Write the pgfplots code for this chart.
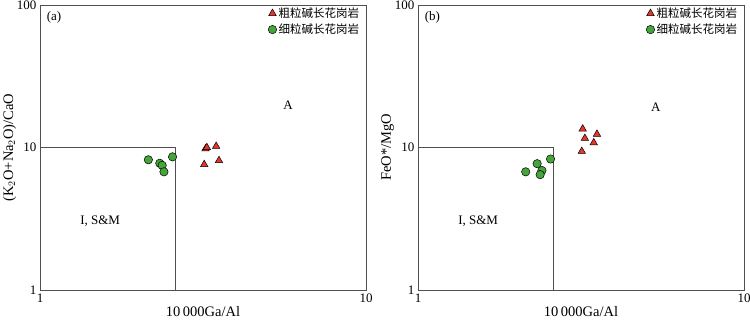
\documentclass[border=0pt]{standalone}
\usepackage{fontspec}
\setmainfont{Liberation Serif}
\newfontfamily\cjk{Noto Sans CJK SC}
\usepackage{pgfplots}
\pgfplotsset{compat=1.18}
\definecolor{frame}{HTML}{505050}
\definecolor{mred}{HTML}{E8352B}
\definecolor{mgreen}{HTML}{45A43A}

\pgfplotsset{
  scale only axis,width=326pt,height=285pt,
  xmin=1,xmax=10,ymin=1,ymax=100,
  xtick={1,10},xticklabels={1,10},
  ytick={1,10,100},yticklabels={1,10,100},
  minor tick num=0,
  major tick length=0pt,minor tick length=0pt,
  axis line style={frame,line width=0.8pt},
  tick label style={font=\fontsize{13}{13}\selectfont},
  label style={font=\fontsize{14.5}{14.5}\selectfont},
  xlabel style={yshift=3pt},
  ylabel style={yshift=-6pt},
  clip=false,
  legend cell align=left,
  legend style={at={(0.995,1.005)},anchor=north east,draw=none,fill=none,
    font=\cjk\fontsize{11.5}{11.5}\selectfont,row sep=1pt},
}

\begin{document}
\begin{tikzpicture}
\useasboundingbox (0pt,0pt) rectangle (750pt,323pt);
\begin{axis}[xmode=log,ymode=log,at={(40pt,33pt)},anchor=south west,
  xlabel={10\,000Ga/Al},ylabel={(K$_2$O+Na$_2$O)/CaO}]
\addplot[only marks,mark=triangle*,mark size=4.3pt,mark options={fill=mred,draw=black,line width=0.5pt}]
  coordinates {(3.22,9.8) (3.25,10.0) (3.47,10.2) (3.19,7.6) (3.54,8.1)};
\addlegendentry{粗粒碱长花岗岩}
\addplot[only marks,mark=*,mark size=4.2pt,mark options={fill=mgreen,draw=black,line width=0.5pt}]
  coordinates {(2.15,8.2) (2.33,7.75) (2.37,7.5) (2.40,6.75) (2.55,8.6)};
\addlegendentry{细粒碱长花岗岩}
\addplot[frame,line width=0.8pt,forget plot] coordinates {(1,10) (2.6,10) (2.6,1)};
\node[anchor=north west,font=\fontsize{13}{13}\selectfont] at (rel axis cs:0.01,0.99) {(a)};
\node[font=\fontsize{13}{13}\selectfont] at (axis cs:5.77,19.9) {A};
\node[font=\fontsize{13}{13}\selectfont] at (axis cs:1.53,3.03) {I, S\&M};
\end{axis}
\begin{axis}[xmode=log,ymode=log,at={(418pt,33pt)},anchor=south west,
  xlabel={10\,000Ga/Al},ylabel={FeO*/MgO}]
\addplot[only marks,mark=triangle*,mark size=4.3pt,mark options={fill=mred,draw=black,line width=0.5pt}]
  coordinates {(3.20,13.5) (3.25,11.6) (3.54,12.4) (3.46,10.8) (3.18,9.4)};
\addlegendentry{粗粒碱长花岗岩}
\addplot[only marks,mark=*,mark size=4.2pt,mark options={fill=mgreen,draw=black,line width=0.5pt}]
  coordinates {(2.14,6.75) (2.32,7.7) (2.40,6.9) (2.37,6.45) (2.55,8.3)};
\addlegendentry{细粒碱长花岗岩}
\addplot[frame,line width=0.8pt,forget plot] coordinates {(1,10) (2.6,10) (2.6,1)};
\node[anchor=north west,font=\fontsize{13}{13}\selectfont] at (rel axis cs:0.01,0.99) {(b)};
\node[font=\fontsize{13}{13}\selectfont] at (axis cs:5.36,19.2) {A};
\node[font=\fontsize{13}{13}\selectfont] at (axis cs:1.53,3.03) {I, S\&M};
\end{axis}
\end{tikzpicture}
\end{document}
